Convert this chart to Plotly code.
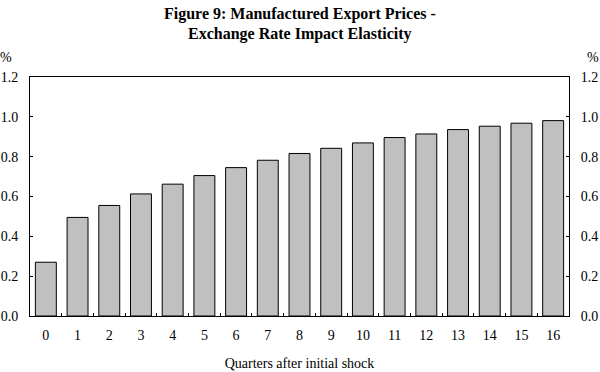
import plotly.graph_objects as go

quarters = [str(i) for i in range(17)]
elasticity = [0.27, 0.495, 0.555, 0.613, 0.662, 0.705, 0.745, 0.782, 0.816,
              0.842, 0.869, 0.896, 0.914, 0.936, 0.953, 0.968, 0.981]
y_ticks = [0.0, 0.2, 0.4, 0.6, 0.8, 1.0, 1.2]
y_labels = ["%.1f" % v for v in y_ticks]
title_lines = ["Figure 9: Manufactured Export Prices -", "Exchange Rate Impact Elasticity"]

FONT = "Liberation Serif"
FS = 14

fig = go.Figure()
fig.add_trace(go.Bar(
    x=quarters, y=elasticity,
    marker=dict(color="#c0c0c0", line=dict(color="black", width=1)),
    width=0.66, hoverinfo="skip", showlegend=False,
))
fig.add_trace(go.Scatter(
    x=quarters, y=elasticity, yaxis="y2", mode="lines",
    line=dict(width=0), opacity=0, hoverinfo="skip", showlegend=False,
))

axis_common = dict(
    range=[0, 1.2], tickvals=y_ticks, ticktext=y_labels,
    showline=True, linecolor="black", linewidth=1,
    ticks="inside", ticklen=3, tickcolor="black",
    showgrid=False, zeroline=False, automargin=False,
    ticklabelstandoff=8,
    tickfont=dict(family=FONT, size=FS, color="black"),
)

annotations = [
    dict(text="<b>%s</b>" % title_lines[0], xref="paper", yref="paper",
         x=0.5, y=1.264, xanchor="center", yanchor="middle", showarrow=False,
         font=dict(family=FONT, size=16, color="black")),
    dict(text="<b>%s</b>" % title_lines[1], xref="paper", yref="paper",
         x=0.5, y=1.18, xanchor="center", yanchor="middle", showarrow=False,
         font=dict(family=FONT, size=16, color="black")),
    dict(text="%", xref="paper", yref="paper", x=-0.0445, y=1.0795,
         xanchor="center", yanchor="middle", showarrow=False,
         font=dict(family=FONT, size=FS, color="black")),
    dict(text="%", xref="paper", yref="paper", x=1.0445, y=1.0795,
         xanchor="center", yanchor="middle", showarrow=False,
         font=dict(family=FONT, size=FS, color="black")),
]

fig.update_layout(
    width=600, height=372,
    margin=dict(l=30, r=31, t=77, b=56),
    paper_bgcolor="white", plot_bgcolor="white",
    font=dict(family=FONT, color="black"),
    xaxis=dict(
        type="category", range=[-0.5, len(quarters) - 0.5],
        showline=True, linecolor="black", linewidth=1,
        mirror=True, ticks="inside", ticklen=3, tickcolor="black",
        tickson="boundaries", showgrid=False, automargin=False,
        ticklabelstandoff=6,
        tickfont=dict(family=FONT, size=FS, color="black"),
        title=dict(text="Quarters after initial shock", standoff=16,
                   font=dict(family=FONT, size=FS, color="black")),
    ),
    yaxis=dict(side="left", **axis_common),
    yaxis2=dict(side="right", overlaying="y", **axis_common),
    annotations=annotations,
)

fig.write_html("out.html", config={"displayModeBar": False},
               post_script="document.body.style.margin='0';")
